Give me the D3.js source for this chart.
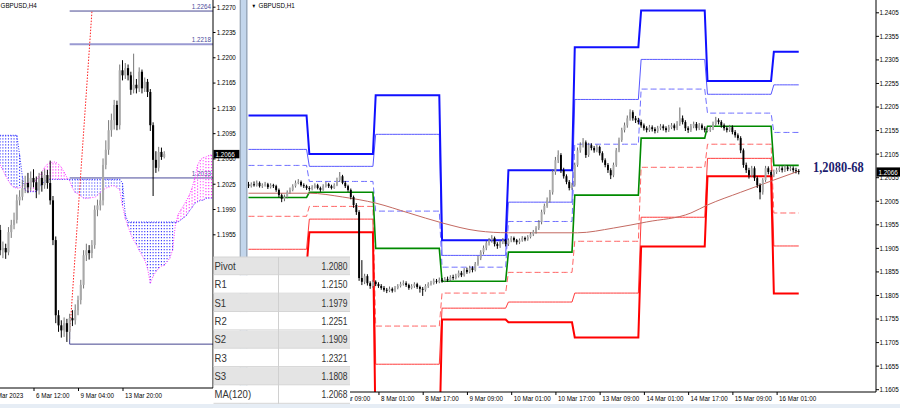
<!DOCTYPE html>
<html><head><meta charset="utf-8">
<script src="https://cdn.jsdelivr.net/npm/d3@7/dist/d3.min.js"></script>
<style>body{margin:0;background:#fff}svg{display:block}text{font-family:"Liberation Sans",Arial,sans-serif}</style>
</head><body>
<svg id="c" width="900" height="408"></svg>
<script>
// ===== H1 (right panel) data =====
const h1FirstOpen = 1.2040;
const h1Closes = [
1.2036,1.2040,1.2038,1.2043,1.2036,1.2038,1.2040,1.2034,1.2038,1.2036,1.2028,1.2017,1.2009,1.2013,1.2023,1.2028,1.2036,1.2043,1.2045,1.2038,1.2036,1.2032,
1.2030,1.2034,1.2038,1.2032,1.2028,1.2036,1.2040,1.2036,1.2032,1.2038,1.2049,1.2057,1.2043,1.2036,1.2028,1.2013,1.1996,1.1981,1.1841,1.1833,1.1845,1.1830,1.1824,1.1833,
1.1828,1.1824,1.1820,1.1816,1.1814,1.1818,1.1814,1.1820,1.1824,1.1828,1.1830,1.1826,1.1820,1.1824,1.1828,1.1822,1.1818,1.1816,1.1824,1.1828,1.1830,1.1835,1.1833,1.1837,
1.1835,1.1839,1.1837,1.1843,1.1841,1.1845,1.1852,1.1847,1.1858,1.1854,1.1862,1.1858,1.1871,1.1883,1.1896,1.1905,1.1915,1.1921,1.1926,1.1913,1.1909,1.1917,1.1921,1.1913,
1.1921,1.1926,1.1921,1.1917,1.1921,1.1926,1.1923,1.1928,1.1934,1.1939,1.1947,1.1960,1.1981,1.1994,1.2006,1.2023,1.2066,1.2091,1.2102,1.2070,1.2057,1.2045,1.2032,1.2038,
1.2081,1.2112,1.2123,1.2129,1.2102,1.2123,1.2117,1.2112,1.2119,1.2106,1.2091,1.2081,1.2070,1.2059,1.2081,1.2112,1.2134,1.2155,1.2165,1.2180,1.2193,1.2180,1.2176,1.2172,
1.2165,1.2159,1.2155,1.2161,1.2157,1.2153,1.2159,1.2163,1.2159,1.2155,1.2161,1.2165,1.2159,1.2168,1.2180,1.2172,1.2159,1.2155,1.2163,1.2168,1.2159,1.2165,1.2159,1.2155,
1.2155,1.2159,1.2168,1.2176,1.2172,1.2165,1.2159,1.2155,1.2161,1.2151,1.2144,1.2138,1.2112,1.2081,1.2070,1.2059,1.2074,1.2053,1.2038,1.2023,1.2049,1.2074,1.2066,1.2059,
1.2066,1.2070,1.2074,1.2070,1.2076,1.2072,1.2074,1.2070,1.2068,1.2066];
const h1Highs = [
1.2045,1.2044,1.2046,1.2048,1.2046,1.2042,1.2045,1.2043,1.2042,1.2041,1.2039,1.2031,1.2020,1.2018,1.2027,1.2033,1.2040,1.2048,1.2051,1.2048,1.2042,1.2039,
1.2036,1.2038,1.2042,1.2041,1.2035,1.2040,1.2045,1.2043,1.2039,1.2042,1.2054,1.2066,1.2060,1.2047,1.2039,1.2031,1.2016,1.2000,1.1985,1.1879,1.1850,1.1849,1.1834,1.1837,
1.1836,1.1832,1.1828,1.1824,1.1820,1.1823,1.1821,1.1824,1.1828,1.1833,1.1836,1.1834,1.1829,1.1828,1.1832,1.1831,1.1825,1.1822,1.1828,1.1832,1.1835,1.1840,1.1839,1.1842,
1.1841,1.1843,1.1844,1.1847,1.1848,1.1850,1.1857,1.1856,1.1862,1.1863,1.1867,1.1866,1.1875,1.1888,1.1900,1.1910,1.1920,1.1926,1.1932,1.1929,1.1917,1.1921,1.1926,1.1924,
1.1925,1.1930,1.1929,1.1924,1.1925,1.1930,1.1929,1.1932,1.1938,1.1943,1.1951,1.1964,1.1986,1.1999,1.2012,1.2028,1.2072,1.2098,1.2112,1.2106,1.2075,1.2061,1.2049,1.2043,
1.2086,1.2118,1.2129,1.2138,1.2133,1.2128,1.2127,1.2121,1.2124,1.2122,1.2110,1.2095,1.2085,1.2074,1.2086,1.2117,1.2139,1.2160,1.2171,1.2186,1.2199,1.2197,1.2185,1.2181,
1.2177,1.2169,1.2163,1.2166,1.2165,1.2161,1.2164,1.2168,1.2167,1.2163,1.2166,1.2170,1.2169,1.2174,1.2203,1.2186,1.2176,1.2163,1.2168,1.2173,1.2172,1.2170,1.2169,1.2163,
1.2161,1.2164,1.2173,1.2183,1.2180,1.2176,1.2169,1.2163,1.2166,1.2165,1.2155,1.2148,1.2142,1.2116,1.2086,1.2075,1.2079,1.2078,1.2057,1.2042,1.2053,1.2079,1.2078,1.2070,
1.2071,1.2075,1.2079,1.2078,1.2081,1.2080,1.2079,1.2078,1.2075,1.2072];
const h1Lows = [
1.2032,1.2033,1.2035,1.2035,1.2033,1.2032,1.2035,1.2030,1.2031,1.2032,1.2024,1.2012,1.2002,1.2004,1.2010,1.2020,1.2025,1.2033,1.2040,1.2035,1.2032,1.2028,
1.2026,1.2027,1.2031,1.2029,1.2024,1.2026,1.2033,1.2032,1.2029,1.2030,1.2036,1.2045,1.2040,1.2032,1.2024,1.2008,1.1990,1.1975,1.1835,1.1826,1.1828,1.1825,1.1818,1.1820,
1.1824,1.1820,1.1816,1.1812,1.1809,1.1811,1.1810,1.1811,1.1817,1.1821,1.1825,1.1822,1.1816,1.1817,1.1820,1.1818,1.1810,1.1803,1.1812,1.1820,1.1825,1.1827,1.1829,1.1830,
1.1831,1.1832,1.1833,1.1834,1.1837,1.1838,1.1842,1.1843,1.1844,1.1850,1.1851,1.1853,1.1855,1.1867,1.1879,1.1891,1.1900,1.1910,1.1916,1.1908,1.1903,1.1905,1.1913,1.1908,
1.1909,1.1917,1.1917,1.1912,1.1913,1.1918,1.1919,1.1920,1.1925,1.1930,1.1935,1.1943,1.1955,1.1976,1.1990,1.2001,1.2018,1.2060,1.2085,1.2064,1.2052,1.2040,1.2027,1.2028,
1.2035,1.2077,1.2107,1.2118,1.2096,1.2098,1.2112,1.2107,1.2108,1.2101,1.2086,1.2076,1.2064,1.2051,1.2055,1.2077,1.2108,1.2130,1.2150,1.2160,1.2175,1.2175,1.2170,1.2167,
1.2160,1.2154,1.2150,1.2151,1.2152,1.2148,1.2149,1.2155,1.2154,1.2150,1.2151,1.2157,1.2154,1.2155,1.2164,1.2167,1.2153,1.2149,1.2151,1.2159,1.2154,1.2155,1.2155,1.2150,
1.2150,1.2151,1.2155,1.2164,1.2167,1.2160,1.2154,1.2150,1.2151,1.2146,1.2139,1.2133,1.2106,1.2075,1.2064,1.2052,1.2055,1.2047,1.2032,1.2008,1.2018,1.2045,1.2061,1.2055,
1.2055,1.2062,1.2066,1.2065,1.2066,1.2068,1.2068,1.2065,1.2063,1.2061];

// daily pivot levels (first bar index of each day)
const dayStarts = [0,22,46,70,94,118,142,166,190];
const pivR3 = [1.2186,1.2104,1.2229,1.1921,1.2070,1.2331,1.2409,1.2259,1.2321];
const pivR2 = [1.2114,1.2078,1.2146,1.1889,1.2002,1.2220,1.2305,1.2231,1.2251];
const pivR1 = [1.2080,1.2046,1.1983,1.1864,1.1961,1.2125,1.2242,1.2191,1.2150];
const pivP  = [1.2012,1.2023,1.1904,1.1834,1.1896,1.2017,1.2138,1.2163,1.2080];
const pivS1 = [1.1972,1.1993,1.1739,1.1809,1.1853,1.1919,1.2076,1.2125,1.1979];
const pivS2 = [1.1902,1.1966,1.1658,1.1777,1.1790,1.1809,1.1970,1.2095,1.1909];
const pivS3 = [1.1864,1.1938,1.1490,1.1753,1.1747,1.1715,1.1908,1.2057,1.1808];

// MA(120) read at bar indices
const maBars = [0,22,34,46,58,70,83,94,119,132,144,160,166,178,190,199];
const maVals = [1.2021,1.2021,1.2013,1.2000,1.1979,1.1958,1.1941,1.1937,1.1937,1.1947,1.1960,1.1979,1.1996,1.2023,1.2049,1.2068];

const h1PriceTicks = [1.1605,1.1655,1.1705,1.1755,1.1805,1.1855,1.1905,1.1955,1.2005,1.2055,1.2105,1.2155,1.2205,1.2255,1.2305,1.2355,1.2405];
const h1DateBars = [31,47,63,79,95,111,127,143,159,175,191];
const h1DateLabels = ["7 Mar 09:00","8 Mar 01:00","8 Mar 17:00","9 Mar 09:00","10 Mar 01:00","10 Mar 17:00","13 Mar 09:00","14 Mar 01:00","14 Mar 17:00","15 Mar 09:00","16 Mar 01:00"];

// ===== H4 (left panel) data =====
const h4FirstOpen = 1.1961;
const h4Closes = [1.1933,1.1936,1.1930,1.1958,1.1968,1.1975,1.2002,1.2007,1.2019,1.2026,1.2020,1.2033,1.2027,1.2016,1.2033,1.2023,1.2037,1.2026,1.2002,1.1947,
1.1843,1.1829,1.1822,1.1832,1.1820,1.1839,1.1836,1.1850,1.1864,1.1885,1.1926,1.1933,1.1929,1.1940,1.1989,1.1995,1.2002,1.2051,1.2072,1.2099,
1.2113,1.2134,1.2106,1.2182,1.2175,1.2185,1.2175,1.2155,1.2162,1.2157,1.2180,1.2157,1.2166,1.2152,1.2106,1.2058,1.2047,1.2069,1.2062,1.2066];
const h4Highs = [1.1968,1.1945,1.1942,1.1965,1.1975,1.1985,1.2010,1.2016,1.2030,1.2036,1.2040,1.2042,1.2045,1.2035,1.2040,1.2042,1.2045,1.2044,1.2057,1.2008,
1.1952,1.1850,1.1836,1.1840,1.1838,1.1845,1.1850,1.1858,1.1870,1.1892,1.1933,1.1942,1.1940,1.1947,1.1995,1.2003,1.2012,1.2060,1.2085,1.2113,
1.2122,1.2141,1.2140,1.2190,1.2196,1.2192,1.2190,1.2180,1.2205,1.2170,1.2186,1.2183,1.2172,1.2170,1.2156,1.2110,1.2070,1.2076,1.2075,1.2070];
const h4Lows = [1.1926,1.1922,1.1921,1.1926,1.1950,1.1962,1.1970,1.1995,1.2002,1.2012,1.2012,1.2015,1.2020,1.2005,1.2010,1.2014,1.2018,1.2018,1.1996,1.1940,
1.1832,1.1820,1.1812,1.1813,1.1806,1.1810,1.1828,1.1830,1.1843,1.1858,1.1880,1.1918,1.1920,1.1922,1.1935,1.1980,1.1988,1.1995,1.2045,1.2065,
1.2090,1.2100,1.2099,1.2100,1.2168,1.2170,1.2168,1.2148,1.2150,1.2150,1.2152,1.2150,1.2152,1.2145,1.2098,1.2008,1.2040,1.2042,1.2058,1.2060];
// Ichimoku Senkou spans (incl. 26 bars ahead)
const senkouA = [1.2092,1.2092,1.2092,1.2092,1.2092,1.2092,1.2092,1.2065,1.2035,1.2016,1.2014,1.2014,1.2014,1.2014,1.2020,1.2025,1.2028,
1.2031,1.2031,1.2031,1.2031,1.2031,1.2031,1.2031,1.2031,1.2031,1.2031,1.2031,1.2031,1.2031,1.2031,1.2031,1.2031,1.2031,1.2031,1.2031,1.2031,1.2031,1.2031,1.2031,1.2031,1.2031,1.2031,1.2031,
1.2026,1.1982,1.1972,1.1972,1.1972,1.1972,1.1972,1.1972,1.1972,1.1972,1.1972,1.1972,1.1972,1.1972,1.1972,1.1972,1.1972,1.1972,1.1972,1.1972,
1.1972,1.1975,1.1978,1.1981,1.1987,1.1992,1.1998,1.2000,1.2002,1.2002,1.2005,1.2005,1.2005];
const senkouB = [1.2051,1.2044,1.2036,1.2029,1.2023,1.2020,1.2019,1.2019,1.2022,1.2025,1.2026,1.2027,1.2029,1.2030,1.2036,1.2041,1.2048,1.2052,1.2054,1.2055,
1.2055,1.2052,1.2048,1.2041,1.2034,1.2029,1.2019,1.2013,1.2011,1.2008,1.2005,1.2005,1.2005,1.2006,1.2006,1.2009,1.2013,1.2016,1.2019,1.2020,
1.2022,1.2022,1.2020,1.2016,1.1995,1.1977,1.1966,1.1955,1.1947,1.1941,1.1933,1.1926,1.1919,1.1908,1.1887,1.1897,1.1903,1.1908,1.1911,1.1912,
1.1917,1.1922,1.1933,1.1968,1.1982,1.1989,1.1995,1.2002,1.2009,1.2019,1.2033,1.2051,1.2058,1.2061,1.2062,1.2064,1.2065];
const fiboLevels = [1.2264,1.2218,1.2033,1.1803];
const fiboLabels = ["1.2264","1.2218","1.2033",""];
const fiboStartBar = 25;
const trendBars = [25.1,33];
const trendVals = [1.1822,1.2263];
const h4PriceTicks = [1.2270,1.2235,1.2200,1.2165,1.2130,1.2095,1.2060,1.2025,1.1990,1.1955];
const h4DateBars = [-4,12,28,44];
const h4DateLabels = ["2 Mar 2023","6 Mar 12:00","9 Mar 04:00","13 Mar 20:00"];

// table
const tableLabels = ["Pivot","R1","S1","R2","S2","R3","S3","MA(120)"];
const tableValues = ["1.2080","1.2150","1.1979","1.2251","1.1909","1.2321","1.1808","1.2068"];
const lastPrice = 1.2066;
const levelNote = "1,2080-68";

// ===== drawing =====
const svg = d3.select("#c");
const SX = 0.85;
const defs = svg.append("defs");
defs.append("clipPath").attr("id","clipR").append("rect").attr("x",247.5).attr("y",0).attr("width",628.5).attr("height",392);
defs.append("clipPath").attr("id","clipL").append("rect").attr("x",0).attr("y",0).attr("width",213).attr("height",388);
defs.append("clipPath").attr("id","clipRB").append("rect").attr("x",350).attr("y",0).attr("width",550).attr("height",408);
defs.append("clipPath").attr("id","clipLB").append("rect").attr("x",0).attr("y",0).attr("width",213).attr("height",408);
svg.append("rect").attr("width",900).attr("height",408).attr("fill","#fff");

function stxt(g, x, y, s, o={}) {
  return g.append("text").attr("transform",`translate(${x},${y}) scale(${o.sx||SX},1)`)
    .attr("text-anchor",o.anchor||"start").attr("font-size",o.size||7.4)
    .attr("fill",o.fill||"#000").attr("font-weight",o.weight||"normal")
    .style("font-family",o.family||'"Liberation Sans",Arial,sans-serif').text(s);
}

// ---------- right panel ----------
const xR = d3.scaleLinear().domain([0,199]).range([248.5,248.5+199*2.765]);
const yR = d3.scaleLinear().domain([1.1605,1.2405]).range([389.2,12.3]);
const gR = svg.append("g").attr("clip-path","url(#clipR)");

function levelPoints(levels){
  const pts=[];
  dayStarts.forEach((s,d)=>{
    const e=(d+1<dayStarts.length?dayStarts[d+1]:h1Closes.length)-1;
    for(let j=s;j<=e;j++) pts.push([j,levels[d]]);
  });
  return pts;
}
const lineR = d3.line().x(d=>xR(d[0])).y(d=>yR(d[1]));
const pivStyles = [
  {v:pivR2,c:"#5858ff",w:1,dash:null},
  {v:pivR1,c:"#6f6fff",w:1,dash:"6,3"},
  {v:pivS1,c:"#ff6464",w:1,dash:"6,3"},
  {v:pivS2,c:"#ff3c3c",w:1,dash:null},
  {v:pivR3,c:"#1010ff",w:2,dash:null},
  {v:pivS3,c:"#ff0000",w:2,dash:null},
  {v:pivP,c:"#008a00",w:1.6,dash:null}
];
pivStyles.forEach(p=>{
  gR.append("path").attr("d",lineR(levelPoints(p.v))).attr("fill","none")
    .attr("stroke",p.c).attr("stroke-width",p.w).attr("stroke-dasharray",p.dash);
});
// MA
gR.append("path").datum(maBars.map((b,k)=>[b,maVals[k]]))
  .attr("d",d3.line().x(d=>xR(d[0])).y(d=>yR(d[1])).curve(d3.curveMonotoneX))
  .attr("fill","none").attr("stroke","#c46a62").attr("stroke-width",1);

function drawCandles(g, xs, ys, closes, highs, lows, firstOpen, bw, bull, bullWick){
  closes.forEach((c,j)=>{
    const o = j===0?firstOpen:closes[j-1];
    const up = c>=o;
    const x = xs(j);
    g.append("line").attr("x1",x).attr("x2",x).attr("y1",ys(highs[j])).attr("y2",ys(lows[j]))
      .attr("stroke",up?bullWick:"#000").attr("stroke-width",1);
    const y1=ys(Math.max(o,c)), y2=ys(Math.min(o,c));
    g.append("rect").attr("x",x-bw/2).attr("y",y1).attr("width",bw).attr("height",Math.max(0.8,y2-y1))
      .attr("fill",up?bull:"#000");
  });
}
drawCandles(gR,xR,yR,h1Closes,h1Highs,h1Lows,h1FirstOpen,1.9,"#a8a8a8","#6a6a6a");

// right axes
const axR = svg.append("g").attr("transform","translate(876,0)")
  .call(d3.axisRight(yR).tickValues(h1PriceTicks).tickSize(3).tickSizeOuter(0).tickFormat(d3.format(".4f")));
axR.select(".domain").remove();
axR.selectAll("text").attr("x",4.2).attr("transform",`scale(${SX},1)`).attr("font-size",7.4).style("font-family",'"Liberation Sans",Arial,sans-serif');
svg.append("line").attr("x1",876).attr("x2",876).attr("y1",0).attr("y2",392).attr("stroke","#000");
svg.append("line").attr("x1",247.5).attr("x2",876).attr("y1",392).attr("y2",392).attr("stroke","#000");
const axRB = svg.append("g").attr("clip-path","url(#clipRB)").append("g").attr("transform","translate(0,392)")
  .call(d3.axisBottom(xR).tickValues(h1DateBars).tickSize(3).tickSizeOuter(0).tickFormat((d,k)=>h1DateLabels[k]));
axRB.select(".domain").remove();
axRB.selectAll("text").attr("text-anchor","start").attr("x",2/SX).attr("y",9).attr("dy",0)
  .attr("transform",`scale(${SX},1)`).attr("font-size",7.4).style("font-family",'"Liberation Sans",Arial,sans-serif');

// title right
stxt(svg,251.5,7.5,"\u25BC",{size:5.5});
stxt(svg,258.5,7.7,"GBPUSD,H1");
// level note
stxt(svg,813,171.5,levelNote,{size:14.8,weight:"bold",fill:"#1c1c6e",family:'"Liberation Serif","Times New Roman",serif',sx:0.84});
// price box right
svg.append("rect").attr("x",876.5).attr("y",yR(lastPrice)-4.6).attr("width",23.5).attr("height",9.2).attr("fill","#000");
stxt(svg,878.5,yR(lastPrice)+2.6,d3.format(".4f")(lastPrice),{fill:"#fff"});

// ---------- left panel ----------
const xL = d3.scaleLinear().domain([12,44]).range([33.5,122.5]);
const yL = d3.scaleLinear().domain([1.1955,1.2270]).range([234.3,6.7]);
const gL = svg.append("g").attr("clip-path","url(#clipL)");
// fibo lines
const fiboStyle = [{c:"#4a4a92",w:1},{c:"#9a9ad2",w:2},{c:"#4a4a9a",w:1},{c:"#44448e",w:1}];
fiboLevels.forEach((v,k)=>{
  gL.append("line").attr("x1",xL(fiboStartBar)).attr("x2",213).attr("y1",yL(v)).attr("y2",yL(v))
    .attr("stroke",fiboStyle[k].c).attr("stroke-width",fiboStyle[k].w);
  if(fiboLabels[k]) stxt(gL,211,yL(v)-2.2,fiboLabels[k],{anchor:"end",fill:"#4b4b9c"});
});
gL.append("line").attr("x1",xL(fiboStartBar)).attr("x2",xL(fiboStartBar))
  .attr("y1",yL(trendVals[0])).attr("y2",yL(fiboLevels[3])).attr("stroke","#44448e");
// cloud hatch
senkouA.forEach((a,i)=>{
  const b=senkouB[i];
  gL.append("line").attr("x1",xL(i)).attr("x2",xL(i)).attr("y1",yL(a)).attr("y2",yL(b))
    .attr("stroke",a>=b?"#3a3aff":"#ff3aff").attr("stroke-width",1.1).attr("stroke-dasharray","1.2,1.8");
});
const lineL = d3.line().x((d,i)=>xL(i)).y(d=>yL(d));
gL.append("path").attr("d",lineL(senkouA)).attr("fill","none").attr("stroke","#3030ff").attr("stroke-width",1).attr("stroke-dasharray","1,1.5");
gL.append("path").attr("d",lineL(senkouB)).attr("fill","none").attr("stroke","#ff30ff").attr("stroke-width",1).attr("stroke-dasharray","1,1.5");
// trend line
gL.append("line").attr("x1",xL(trendBars[0])).attr("y1",yL(trendVals[0])).attr("x2",xL(trendBars[1])).attr("y2",yL(trendVals[1]))
  .attr("stroke","#ff2020").attr("stroke-width",1).attr("stroke-dasharray","1.5,1.5");
drawCandles(gL,xL,yL,h4Closes,h4Highs,h4Lows,h4FirstOpen,2.1,"#a9a9a9","#777");

// left axes
const axL = svg.append("g").attr("transform","translate(213,0)")
  .call(d3.axisRight(yL).tickValues(h4PriceTicks).tickSize(2.5).tickSizeOuter(0).tickFormat(d3.format(".4f")));
axL.select(".domain").remove();
axL.selectAll("text").attr("x",4.3).attr("transform",`scale(${SX},1)`).attr("font-size",7.4).style("font-family",'"Liberation Sans",Arial,sans-serif');
svg.append("line").attr("x1",213).attr("x2",213).attr("y1",0).attr("y2",388).attr("stroke","#000");
svg.append("line").attr("x1",0).attr("x2",213).attr("y1",388).attr("y2",388).attr("stroke","#000");
const axLB = svg.append("g").attr("clip-path","url(#clipLB)").append("g").attr("transform","translate(0,388)")
  .call(d3.axisBottom(xL).tickValues(h4DateBars).tickSize(3).tickSizeOuter(0).tickFormat((d,k)=>h4DateLabels[k]));
axLB.select(".domain").remove();
axLB.selectAll("text").attr("text-anchor","start").attr("x",2/SX).attr("y",10.5).attr("dy",0)
  .attr("transform",`scale(${SX},1)`).attr("font-size",7.4).style("font-family",'"Liberation Sans",Arial,sans-serif');
stxt(svg,0.5,7.7,"GBPUSD,H4");
svg.append("rect").attr("x",213.5).attr("y",yL(lastPrice)-4.2).attr("width",26).attr("height",8.4).attr("fill","#000");
stxt(svg,215.5,yL(lastPrice)+2.7,d3.format(".4f")(lastPrice),{fill:"#fff"});

// separator
svg.append("rect").attr("x",240).attr("y",0).attr("width",7.5).attr("height",408).attr("fill","#c3d6ec");
svg.append("line").attr("x1",240.2).attr("x2",240.2).attr("y1",0).attr("y2",408).attr("stroke","#8a98a8");
svg.append("line").attr("x1",246.8).attr("x2",246.8).attr("y1",0).attr("y2",408).attr("stroke","#8a98a8");

// bottom strip
svg.append("rect").attr("x",0).attr("y",404).attr("width",900).attr("height",4).attr("fill","#e6edf5");

// table
const tX=213.5, tY=257, rowH=18.35, tW=136.5, colX=278.5;
const gT = svg.append("g");
tableLabels.forEach((lab,k)=>{
  const y=tY+k*rowH;
  gT.append("rect").attr("x",tX).attr("y",y).attr("width",tW).attr("height",rowH)
    .attr("fill",k%2===0?"#e4e4e4":"#ffffff");
  gT.append("line").attr("x1",tX).attr("x2",tX+tW).attr("y1",y+rowH-0.5).attr("y2",y+rowH-0.5).attr("stroke","#d4d4d4");
  stxt(gT,tX+1,y+rowH/2+3.8,lab,{size:10.6,fill:"#333",sx:0.9});
  stxt(gT,347.5,y+rowH/2+3.8,tableValues[k],{size:10.6,fill:"#333",sx:0.8,anchor:"end"});
});
gT.append("line").attr("x1",colX).attr("x2",colX).attr("y1",tY).attr("y2",tY+rowH*8).attr("stroke","#d0d0d0");
gT.append("line").attr("x1",tX).attr("x2",tX+tW).attr("y1",tY).attr("y2",tY).attr("stroke","#d4d4d4");
</script>
</body></html>
